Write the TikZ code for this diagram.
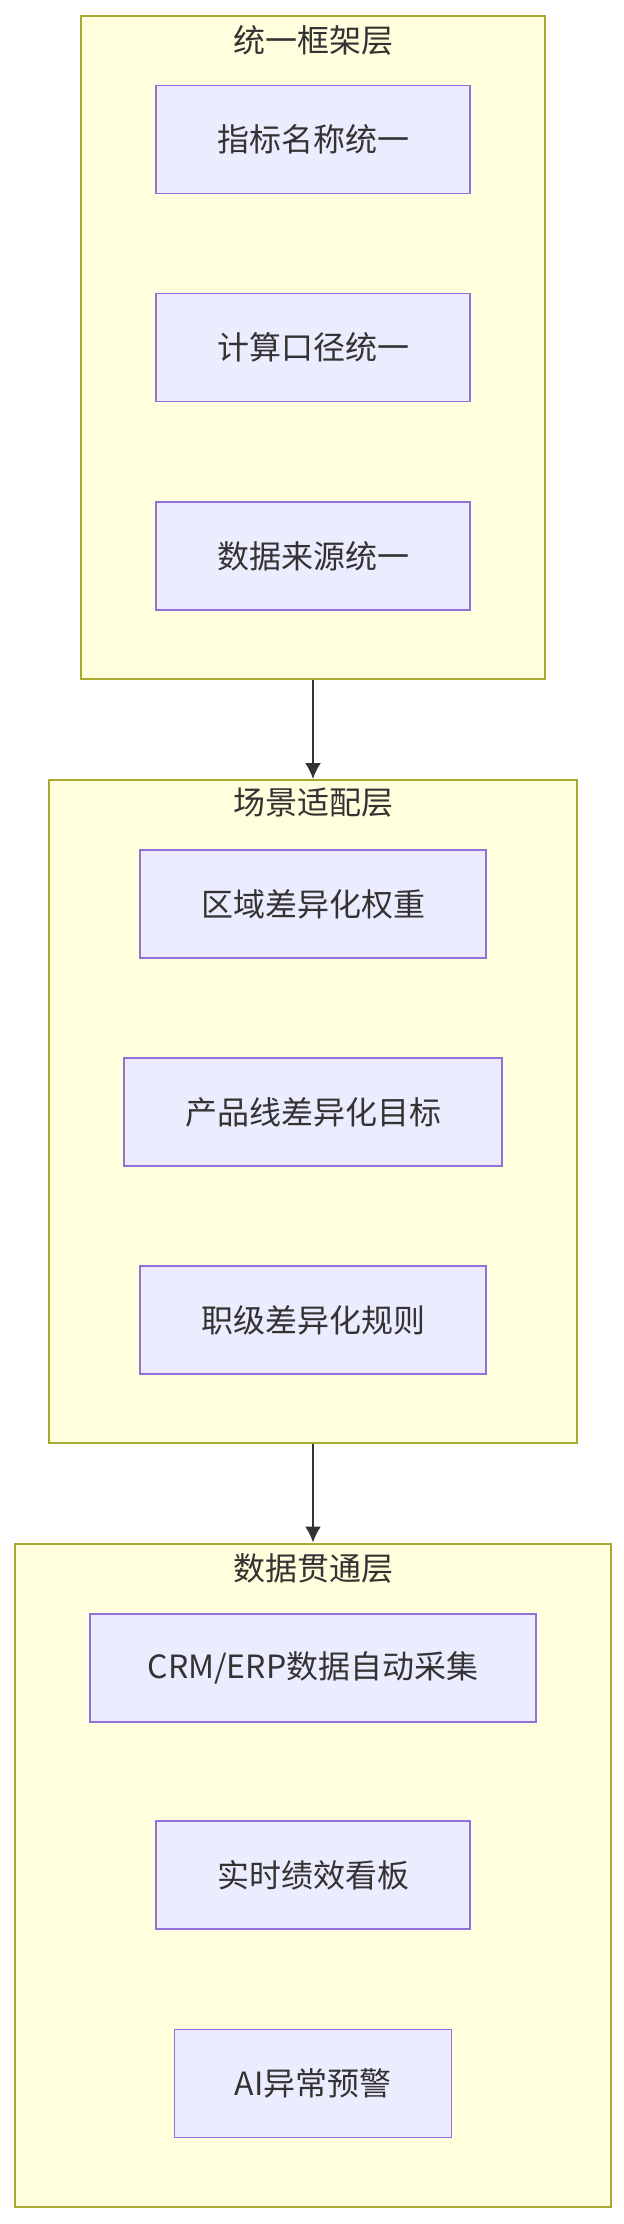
\documentclass[tikz,border=0pt]{standalone}
\usepackage{fontspec}
\setmainfont{Noto Sans CJK SC}
\usepackage{tikz}
\usetikzlibrary{arrows.meta}
\definecolor{layerfill}{HTML}{FFFFDE}
\definecolor{layerline}{HTML}{AAAA33}
\definecolor{itemfill}{HTML}{ECECFF}
\definecolor{itemline}{HTML}{9370DB}
\definecolor{ink}{HTML}{333333}
\tikzset{
  layer/.style={draw=layerline, fill=layerfill, line width=1pt, minimum width=#1, minimum height=331.5pt, inner sep=0pt},
  item/.style={draw=itemline, fill=itemfill, line width=0.8pt, minimum width=#1, minimum height=54pt, inner sep=0pt, text=ink, font=\fontsize{16pt}{19pt}\selectfont},
  layertitle/.style={text=ink, inner sep=0pt, font=\fontsize{16pt}{19pt}\selectfont},
  flow/.style={-{Latex[length=8pt,width=8pt]}, draw=ink, line width=1pt}
}

\begin{document}
\begin{tikzpicture}[x=0.5pt, y=-0.5pt]
    \useasboundingbox (0,0) rectangle (624,2224);
           \node[layer=232pt](frame)  at (313,347.5) {};
           \node[layer=264pt](scene)  at (313,1111.5) {};
           \node[layer=298pt](data)  at (313,1875) {};
      \node[layertitle](frametitle)  at (313,40) {统一框架层};
      \node[layertitle](scenetitle)  at (313,803) {场景适配层};
      \node[layertitle](datatitle)  at (313,1568) {数据贯通层};
          \node[item=157pt](name)  at (313,139.5) {指标名称统一};
          \node[item=157pt](calc)  at (313,347.5) {计算口径统一};
          \node[item=157pt](source)  at (313,556) {数据来源统一};
          \node[item=173pt](region)  at (313,904) {区域差异化权重};
          \node[item=189pt](product)  at (313,1112) {产品线差异化目标};
          \node[item=173pt](rank)  at (313,1320) {职级差异化规则};
          \node[item=223pt](collect)  at (313,1668) {CRM/ERP数据自动采集};
          \node[item=157pt](board)  at (313,1875) {实时绩效看板};
          \node[item=138.5pt](alert)  at (313,2083.5) {AI异常预警};
      \draw[flow] (frame) -- (scene);
      \draw[flow] (scene) -- (data);
\end{tikzpicture}
\end{document}
